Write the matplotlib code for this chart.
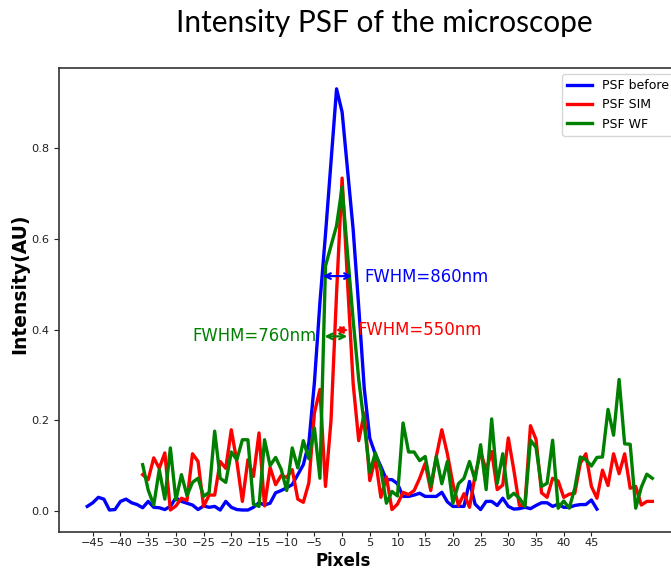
import numpy as np
import matplotlib
matplotlib.use("Agg")
import matplotlib.pyplot as plt

# ---- data ----
x_before = list(range(-46, 47))
psf_before = [
    0.010, 0.018, 0.030, 0.026, 0.002, 0.003, 0.021, 0.026, 0.018, 0.014,
    0.007, 0.021, 0.008, 0.007, 0.003, 0.010, 0.029, 0.021, 0.017, 0.013,
    0.003, 0.011, 0.008, 0.010, 0.002, 0.021, 0.008, 0.003, 0.002, 0.002,
    0.008, 0.018, 0.013, 0.017, 0.040, 0.045, 0.051, 0.058, 0.080, 0.102,
    0.150, 0.283, 0.460, 0.610, 0.770, 0.931, 0.880, 0.750, 0.620, 0.450,
    0.270, 0.160, 0.125, 0.098, 0.069, 0.069, 0.060, 0.032, 0.032, 0.035,
    0.039, 0.032, 0.032, 0.032, 0.041, 0.020, 0.010, 0.010, 0.010, 0.065,
    0.015, 0.003, 0.021, 0.021, 0.012, 0.028, 0.010, 0.004, 0.005, 0.008,
    0.005, 0.012, 0.018, 0.018, 0.010, 0.015, 0.008, 0.008, 0.012, 0.014,
    0.014, 0.024, 0.004,
]

x_sim = list(range(-36, 57))
psf_sim = [
    0.080, 0.069, 0.117, 0.094, 0.128, 0.002, 0.011, 0.028, 0.023, 0.126,
    0.109, 0.010, 0.035, 0.035, 0.109, 0.094, 0.179, 0.109, 0.021, 0.113,
    0.076, 0.172, 0.011, 0.096, 0.058, 0.078, 0.074, 0.091, 0.026, 0.019,
    0.062, 0.216, 0.268, 0.054, 0.200, 0.480, 0.734, 0.500, 0.280, 0.155,
    0.216, 0.067, 0.115, 0.030, 0.075, 0.003, 0.015, 0.041, 0.036, 0.045,
    0.072, 0.105, 0.045, 0.120, 0.179, 0.126, 0.060, 0.012, 0.038, 0.008,
    0.078, 0.130, 0.090, 0.131, 0.047, 0.057, 0.161, 0.090, 0.012, 0.013,
    0.188, 0.158, 0.040, 0.030, 0.072, 0.066, 0.030, 0.037, 0.039, 0.105,
    0.126, 0.054, 0.028, 0.090, 0.056, 0.126, 0.082, 0.126, 0.050, 0.054,
    0.013, 0.021, 0.021,
]

x_wf = list(range(-36, 57))
psf_wf = [
    0.102, 0.046, 0.013, 0.091, 0.026, 0.139, 0.024, 0.080, 0.034, 0.063,
    0.072, 0.032, 0.041, 0.176, 0.072, 0.063, 0.130, 0.113, 0.157, 0.157,
    0.015, 0.010, 0.157, 0.100, 0.118, 0.092, 0.045, 0.139, 0.095, 0.155,
    0.115, 0.183, 0.072, 0.540, 0.585, 0.629, 0.714, 0.565, 0.420, 0.290,
    0.190, 0.085, 0.128, 0.091, 0.017, 0.043, 0.033, 0.194, 0.130, 0.130,
    0.111, 0.120, 0.054, 0.120, 0.060, 0.109, 0.017, 0.060, 0.072, 0.109,
    0.068, 0.146, 0.047, 0.203, 0.061, 0.126, 0.028, 0.039, 0.028, 0.010,
    0.156, 0.140, 0.054, 0.061, 0.156, 0.006, 0.022, 0.006, 0.050, 0.119,
    0.113, 0.099, 0.118, 0.119, 0.224, 0.167, 0.290, 0.148, 0.147, 0.006,
    0.052, 0.081, 0.072,
]

series_labels = ["PSF before", "PSF SIM", "PSF WF"]
series_colors = ["blue", "red", "green"]
xticks = list(range(-45, 50, 5))
yticks = [0.0, 0.2, 0.4, 0.6, 0.8]

fwhm_labels = ["FWHM=860nm", "FWHM=550nm", "FWHM=760nm"]

# ---- figure ----
fig = plt.figure(figsize=(6.71, 5.69), dpi=100)
W, H = 671.0, 569.0
ax_l, ax_r, ax_t, ax_b = 59.0, 680.6, 68.0, 532.0
ax = fig.add_axes([ax_l / W, (H - ax_b) / H, (ax_r - ax_l) / W, (ax_b - ax_t) / H])

lw = 2.4
ax.plot(x_before, psf_before, color=series_colors[0], lw=lw, label=series_labels[0])
ax.plot(x_sim, psf_sim, color=series_colors[1], lw=lw, label=series_labels[1])
ax.plot(x_wf, psf_wf, color=series_colors[2], lw=lw, label=series_labels[2])

ax.set_xlim(-51.1, 61.1)
ax.set_ylim(-0.0465, 0.977)
ax.set_xticks(xticks)
ax.set_yticks(yticks)
ax.set_yticklabels([f"{v:.1f}" for v in yticks])
ax.tick_params(labelsize=8.2, colors="#222222", length=3.5)
ax.tick_params(axis="x", length=3, pad=1.3)
for sp in ax.spines.values():
    sp.set_color("#333333")
    sp.set_linewidth(1.2)

ax.set_xlabel("Pixels", fontsize=12, fontweight="bold")
ax.set_ylabel("Intensity(AU)", fontsize=13.5, fontweight="bold")
ax.xaxis.set_label_coords((343 - ax_l) / (ax_r - ax_l), (ax_b - 561) / (ax_b - ax_t))
ax.xaxis.label.set_verticalalignment("center")
ax.yaxis.set_label_coords((20 - ax_l) / (ax_r - ax_l), (ax_b - 283.5) / (ax_b - ax_t))
ax.yaxis.label.set_verticalalignment("center")

# FWHM arrows and labels
ax.annotate("", xy=(-3.99, 0.518), xytext=(2.33, 0.518),
            arrowprops=dict(arrowstyle="<->", color="blue", lw=1.6))
ax.text(4.1, 0.517, fwhm_labels[0], color="blue", fontsize=11.9, va="center", ha="left")

ax.annotate("", xy=(-1.64, 0.399), xytext=(1.6, 0.399),
            arrowprops=dict(arrowstyle="<->", color="red", lw=1.6))
ax.text(2.7, 0.398, fwhm_labels[1], color="red", fontsize=11.9, va="center", ha="left")

ax.annotate("", xy=(-3.68, 0.385), xytext=(1.43, 0.385),
            arrowprops=dict(arrowstyle="<->", color="green", lw=1.6))
ax.text(-27.0, 0.385, fwhm_labels[2], color="green", fontsize=11.9, va="center", ha="left")

ax.legend(loc="upper right", fontsize=9)

fig.text(384 / W, 1 - 23 / H, "Intensity PSF of the microscope",
         fontsize=21.5, family="Lato", ha="center", va="center")

fig.savefig("out.png", dpi=100)
